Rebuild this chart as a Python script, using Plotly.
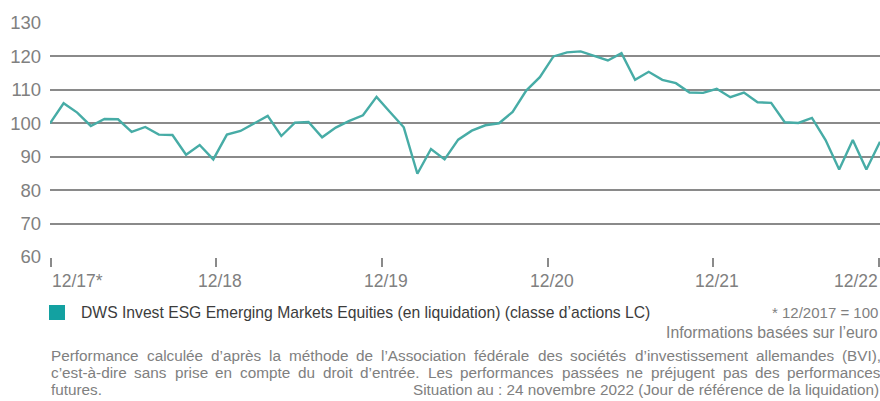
import plotly.graph_objects as go

# ---- data ----
values = [100, 106, 103.2, 99.2, 101.3, 101.2, 97.4, 98.9, 96.6, 96.5,
          90.6, 93.5, 89.2, 96.6, 97.7, 100, 102.2, 96.2, 100.2, 100.4,
          95.8, 98.7, 100.7, 102.4, 107.9, 103.3, 98.8, 84.9, 92.3, 89.2,
          95.1, 97.8, 99.4, 100, 103.4, 109.8, 113.8, 120, 121.2, 121.5,
          120.2, 118.8, 121, 113, 115.4, 113, 112, 109.2, 109.1, 110.3,
          107.8, 109.2, 106.3, 106.1, 100.3, 100.1, 101.6, 95, 86.2, 95,
          86.2, 94.5]
tick_labels = ["12/17*", "12/18", "12/19", "12/20", "12/21", "12/22"]
y_ticks = [60, 70, 80, 90, 100, 110, 120, 130]
series_name = "DWS Invest ESG Emerging Markets Equities (en liquidation) (classe d\u2019actions LC)"
note_base = "* 12/2017 = 100"
note_currency = "Informations bas\u00e9es sur l\u2019euro"
footer_lines = [
    "Performance calcul\u00e9e d\u2019apr\u00e8s la m\u00e9thode de l\u2019Association f\u00e9d\u00e9rale des soci\u00e9t\u00e9s d\u2019investissement allemandes (BVI),",
    "c\u2019est-\u00e0-dire sans prise en compte du droit d\u2019entr\u00e9e. Les performances pass\u00e9es ne pr\u00e9jugent pas des performances",
]
footer_last_left = "futures."
footer_last_right = "Situation au : 24 novembre 2022 (Jour de r\u00e9f\u00e9rence de la liquidation)"

FONT = "Liberation Sans, Arial, sans-serif"
LINE = "#47aca6"
GRID = "#8a8a8a"
TXT = "#808080"
W = 880
PLOT_L, PLOT_R, PLOT_T, PLOT_B = 50, 880, 23, 257
PW = PLOT_R - PLOT_L
PH = PLOT_B - PLOT_T

# Arial / Liberation Sans advance widths (per 1000 em) for justification
AW = {' ': 278, ',': 278, '.': 278, '-': 333, '(': 333, ')': 333, ':': 278,
      '\u2019': 222, 'a': 556, 'b': 556, 'c': 500, 'd': 556, 'e': 556, 'f': 278,
      'g': 556, 'h': 556, 'i': 222, 'j': 222, 'k': 500, 'l': 222, 'm': 833,
      'n': 556, 'o': 556, 'p': 556, 'q': 556, 'r': 333, 's': 500, 't': 278,
      'u': 556, 'v': 500, 'w': 722, 'x': 500, 'y': 500, 'z': 500,
      '\u00e9': 556, '\u00e8': 556, '\u00e0': 556, 'A': 667, 'B': 667, 'I': 278,
      'L': 556, 'P': 667, 'V': 667}


def text_w(s, fs):
    return sum(AW.get(ch, 556) for ch in s) * fs / 1000.0


def px2paper_x(xpx):
    return (xpx - PLOT_L) / PW


def px2paper_y(ypx):
    return (PLOT_B - ypx) / PH


x = list(range(len(values)))
n_int = len(values) - 1
year_step = n_int / 5.01
tickvals = [0.05 + i * year_step for i in range(len(tick_labels))]

fig = go.Figure()
fig.add_trace(go.Scatter(x=x, y=values, mode="lines",
                         line=dict(color=LINE, width=2.4), showlegend=False,
                         hoverinfo="skip"))

fig.update_layout(
    width=880, height=401,
    margin=dict(l=PLOT_L, r=W - PLOT_R, t=PLOT_T, b=401 - PLOT_B),
    paper_bgcolor="white", plot_bgcolor="white",
    font=dict(family=FONT, color=TXT),
    xaxis=dict(range=[0, n_int], tickvals=tickvals, ticktext=[""] * len(tickvals),
               ticks="outside", ticklen=9, tickwidth=1.5, tickcolor=GRID,
               showgrid=False, zeroline=False, showline=False, fixedrange=True),
    yaxis=dict(range=[60, 130], tickvals=y_ticks, showgrid=True, gridcolor=GRID,
               gridwidth=1.6, zeroline=False, showline=False,
               tickfont=dict(size=18.5, color=TXT), ticks="", ticklabelstandoff=8,
               fixedrange=True),
)

anns = []
for i, (tv, lab) in enumerate(zip(tickvals, tick_labels)):
    if i == 0:
        xa, shift = "left", -1
    elif i == len(tick_labels) - 1:
        xa, shift = "right", 1
    else:
        xa, shift = "center", 4
    anns.append(dict(x=tv, y=px2paper_y(281), xref="x", yref="paper", text=lab,
                     showarrow=False, xanchor=xa, yanchor="middle", xshift=shift,
                     font=dict(size=17.5, color=TXT, family=FONT)))

anns.append(dict(x=px2paper_x(79), y=px2paper_y(312), xref="paper", yref="paper",
                 xanchor="left", yanchor="middle", showarrow=False, text=series_name,
                 font=dict(size=15.7, color="#3c3c3c", family=FONT)))
anns.append(dict(x=1, y=px2paper_y(312), xref="paper", yref="paper", xanchor="right",
                 yanchor="middle", showarrow=False, text=note_base,
                 font=dict(size=15, color=TXT, family=FONT)))
anns.append(dict(x=1, y=px2paper_y(332), xref="paper", yref="paper", xanchor="right",
                 yanchor="middle", showarrow=False, text=note_currency,
                 font=dict(size=15.8, color=TXT, family=FONT)))

FS = 15.3
# justified footer lines, word by word
for k, line in enumerate(footer_lines):
    words = line.split(" ")
    widths = [text_w(wd, FS) for wd in words]
    gap = (PW - sum(widths)) / (len(words) - 1)
    pos = PLOT_L
    for wd, wdw in zip(words, widths):
        anns.append(dict(x=px2paper_x(pos), y=px2paper_y(355 + 17 * k), xref="paper",
                         yref="paper", xanchor="left", yanchor="middle",
                         showarrow=False, text=wd, borderpad=0,
                         font=dict(size=FS, color=TXT, family=FONT)))
        pos += wdw + gap
anns.append(dict(x=0, y=px2paper_y(389), xref="paper", yref="paper", xanchor="left",
                 yanchor="middle", showarrow=False, text=footer_last_left, borderpad=0,
                 font=dict(size=FS, color=TXT, family=FONT)))
anns.append(dict(x=1, y=px2paper_y(389), xref="paper", yref="paper", xanchor="right",
                 yanchor="middle", showarrow=False, text=footer_last_right, borderpad=0,
                 font=dict(size=FS, color=TXT, family=FONT)))

fig.update_layout(annotations=anns)
fig.add_shape(type="rect", xref="paper", yref="paper",
              x0=px2paper_x(49), x1=px2paper_x(65), y0=px2paper_y(320), y1=px2paper_y(305),
              fillcolor="#13a1a1", line=dict(width=0))

fig.write_html("out.html", config={"displayModeBar": False},
               post_script="document.body.style.margin='0';document.body.style.overflow='hidden';")
